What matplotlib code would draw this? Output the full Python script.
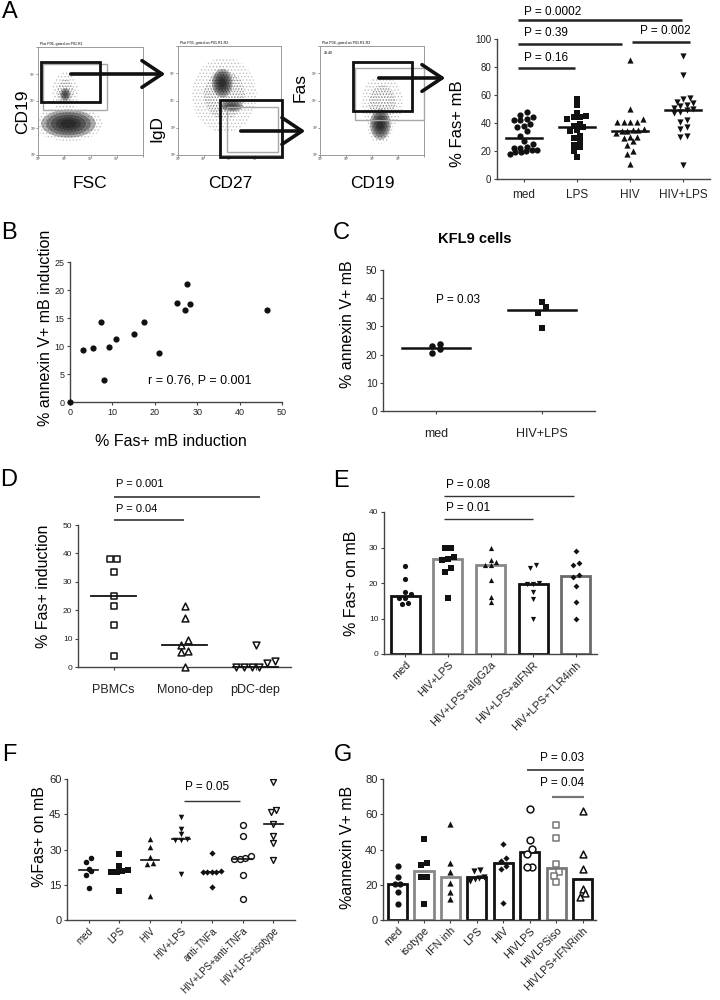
import numpy as np
import matplotlib
matplotlib.use('Agg')
import matplotlib.pyplot as plt
from matplotlib.patches import Rectangle, Ellipse, FancyArrowPatch

plt.rcParams['font.family'] = ['Liberation Sans', 'DejaVu Sans']
plt.rcParams['hatch.linewidth'] = 0.6

# ---------------- data ----------------
a_groups = ['med', 'LPS', 'HIV', 'HIV+LPS']
a_med = [48, 46, 44, 43, 42, 42, 39, 38, 37, 34, 31, 27, 25, 23, 22, 22, 21, 21, 20, 19, 19, 18]
a_lps = [57, 53, 47, 45, 44, 44, 43, 39, 38, 37, 35, 34, 31, 29, 27, 24, 23, 20, 16]
a_hiv = [85, 50, 43, 41, 41, 41, 41, 36, 35, 35, 34, 34, 33, 30, 30, 29, 27, 24, 20, 18, 11]
a_hivlps = [88, 74, 58, 57, 55, 54, 53, 52, 51, 50, 49, 48, 47, 42, 41, 37, 36, 31, 30, 10]

b_fas = [0, 3.0, 5.4, 7.2, 8.1, 9.1, 10.9, 15.0, 17.5, 20.9, 25.2, 27.2, 27.7, 28.2, 46.5]
b_annexin = [0, 9.3, 9.6, 14.2, 4.0, 9.9, 11.2, 12.1, 14.2, 8.8, 17.6, 16.5, 21.1, 17.5, 16.4]

c_groups = ['med', 'HIV+LPS']
c_med = [23.0, 23.8, 22.0, 20.4]
c_hivlps = [38.5, 36.8, 34.9, 29.3]

d_groups = ['PBMCs', 'Mono-dep', 'pDC-dep']
d_pbmc = [38, 38, 33.3, 24.9, 21.4, 14.7, 4.0]
d_mono = [21.4, 17.1, 9.4, 7.9, 5.6, 5.3, 0]
d_pdc = [7.9, 1.5, 0, 0, 0, 0, 2.0]

e_groups = ['med', 'HIV+LPS', 'HIV+LPS+aIgG2a', 'HIV+LPS+aIFNR', 'HIV+LPS+TLR4inh']
e_med = [24.8, 21.0, 17.5, 17.0, 15.9, 15.9, 14.2, 14.4]
e_hivlps = [29.9, 29.9, 27.2, 26.5, 26.9, 24.3, 23.1, 15.9]
e_igg = [29.8, 26.0, 25.2, 25.0, 26.5, 20.8, 16.0, 14.6]
e_ifnr = [25.0, 24.1, 19.9, 19.7, 19.7, 17.5, 15.6, 10.0]
e_tlr4 = [28.9, 25.2, 25.7, 22.2, 21.7, 19.2, 14.7, 10.0]

f_groups = ['med', 'LPS', 'HIV', 'HIV+LPS', 'anti-TNFa', 'HIV+LPS+anti-TNFa', 'HIV+LPS+isotype']
f_med = [26.2, 24.5, 21.6, 21.0, 19.2, 13.8]
f_lps = [28.2, 22.8, 21.3, 21.0, 20.6, 20.3, 12.4]
f_hiv = [34.4, 31.0, 27.0, 24.2, 23.8, 10.2]
f_hivlps = [43.8, 38.7, 36.5, 34.6, 34.2, 34.0, 19.5]
f_tnf = [28.4, 21.0, 20.6, 20.5, 20.4, 20.6, 14.2]
f_hivlps_tnf = [40.4, 35.6, 27.3, 26.3, 26.0, 25.8, 19.2, 9.1]
f_iso = [58.6, 46.9, 45.8, 41.0, 35.6, 32.7, 25.6]

g_groups = ['med', 'isotype', 'IFN inh', 'LPS', 'HIV', 'HIVLPS', 'HIVLPSiso', 'HIVLPS+IFNRinh']
g_med = [30.9, 24.6, 20.3, 20.3, 15.7, 8.9]
g_iso = [45.9, 32.6, 31.3, 24.3, 24.3, 9.1]
g_ifn = [54.6, 32.6, 27.5, 21.0, 16.1, 11.8]
g_lps = [28.4, 27.8, 24.6, 24.0, 23.0, 22.4]
g_hiv = [43.0, 35.1, 33.6, 30.7, 28.8, 9.5]
g_hivlps = [62.9, 45.5, 40.2, 37.3, 29.8, 29.8]
g_hivlpsiso = [54.0, 46.4, 31.8, 27.1, 25.0, 21.8]
g_ifnr = [61.6, 37.5, 28.8, 17.4, 15.2, 13.3]

# ---------------- helpers ----------------
W, H = 720, 1000
fig = plt.figure(figsize=(7.2, 10), dpi=100)
fig.patch.set_facecolor('white')


def rect(l, t, r, b):
    return [l / W, 1 - b / H, (r - l) / W, (b - t) / H]


def fp(x, y):
    return (x / W, 1 - y / H)


def ftext(x, y, s, **kw):
    fig.text(x / W, 1 - y / H, s, **kw)


AX = '#444444'


def style(ax, fs=7):
    for s in ['top', 'right']:
        ax.spines[s].set_visible(False)
    for s in ['left', 'bottom']:
        ax.spines[s].set_color(AX)
        ax.spines[s].set_linewidth(1.0)
    ax.tick_params(axis='both', length=2.5, width=0.8, color=AX,
                   labelsize=fs, labelcolor='#222222', pad=1.5)
    ax.set_facecolor('none')


def swarm(vals, thr, dx, maxw=0.8):
    v = np.asarray(vals, float)
    order = np.argsort(v)
    off = np.zeros(len(v))
    rows, cur = [], [order[0]]
    for idx in order[1:]:
        if v[idx] - v[cur[0]] < thr:
            cur.append(idx)
        else:
            rows.append(cur)
            cur = [idx]
    rows.append(cur)
    for r in rows:
        n = len(r)
        d = dx if n * dx <= maxw else maxw / n
        for k, idx in enumerate(r):
            off[idx] = (k - (n - 1) / 2) * d
    return off


def pline(ax, x0, x1, y, color='#222222', lw=1.2):
    ax.plot([x0, x1], [y, y], color=color, lw=lw, clip_on=False, solid_capstyle='butt')


# ================= Panel A: flow plots =================
flow_axes = [(38, 47, 143, 155, 'Plot P06, gated on P01.R1', ''),
             (178, 46, 281, 155, 'Plot P05, gated on P01.R1.R2', ''),
             (320, 46, 424, 155, 'Plot P04, gated on P01.R1.R2', '28.40')]
flow_ax = []
for (l, t, r, b, ttl, extra) in flow_axes:
    fa = fig.add_axes(rect(l, t, r, b))
    fa.set_xlim(0, 1)
    fa.set_ylim(0, 1)
    for s in fa.spines.values():
        s.set_color('#9a9a9a')
        s.set_linewidth(0.7)
    fa.set_xticks([0, 0.25, 0.5, 0.75, 1.0])
    fa.set_yticks([0, 0.25, 0.5, 0.75, 1.0])
    fa.set_xticklabels(['10²', '10³', '10⁴', '10⁵', ''], fontsize=2.5)
    fa.set_yticklabels(['10²', '10³', '10⁴', '10⁵', ''], fontsize=2.5)
    fa.tick_params(length=1.2, width=0.4, pad=0.5, colors='#444')
    fa.text(0.02, 1.01, ttl, fontsize=2.6, transform=fa.transAxes, va='bottom')
    if extra:
        fa.text(0.04, 0.95, extra, fontsize=2.6, transform=fa.transAxes, va='top')
    flow_ax.append(fa)


def cloud(fa, cx, cy, w, h, dark, sparse=False):
    # soft population cloud: dotted halo plus graded core
    e = Ellipse((cx, cy), w * 1.25, h * 1.25, facecolor='none', edgecolor='#bdbdbd',
                lw=0, hatch='.....', transform=fa.transAxes, zorder=1)
    fa.add_patch(e)
    if sparse:
        fa.add_patch(Ellipse((cx, cy), w * 0.8, h * 0.8, facecolor='none',
                             edgecolor='#8a8a8a', lw=0, hatch='......',
                             transform=fa.transAxes, zorder=1))
        return
    for sc in [1.0, 0.82, 0.64, 0.46, 0.3]:
        fa.add_patch(Ellipse((cx, cy), w * sc, h * sc, facecolor=dark, alpha=0.32,
                             edgecolor='none', transform=fa.transAxes, zorder=2))


cloud(flow_ax[0], 0.29, 0.29, 0.52, 0.26, '#0a0a0a')
cloud(flow_ax[0], 0.26, 0.58, 0.20, 0.30, '#333333', sparse=True)
cloud(flow_ax[0], 0.26, 0.56, 0.10, 0.12, '#333333')
cloud(flow_ax[1], 0.45, 0.55, 0.50, 0.55, '#333333', sparse=True)
cloud(flow_ax[1], 0.43, 0.66, 0.20, 0.26, '#111111')
cloud(flow_ax[1], 0.52, 0.45, 0.22, 0.10, '#333333')
cloud(flow_ax[2], 0.60, 0.48, 0.32, 0.40, '#333333', sparse=True)
cloud(flow_ax[2], 0.58, 0.28, 0.20, 0.28, '#111111')

# gates (figure pixel coordinates)
gates = [((43, 64, 107, 110), (41, 62, 100, 102)),
         ((227, 107, 278, 152), (220, 100, 282, 157)),
         ((355, 68, 424, 120), (353, 62, 412, 111))]
for light, thick in gates:
    for (bx, c, lw) in [(light, '#a8a8a8', 1.0), (thick, '#111111', 2.0)]:
        x0, y0, x1, y1 = bx
        fig.patches.append(Rectangle(fp(x0, y1), (x1 - x0) / W, (y1 - y0) / H,
                                     transform=fig.transFigure, fill=False,
                                     edgecolor=c, lw=lw, zorder=5))

arrows = [((68, 74), (168, 74)), ((238, 131), (308, 131)), ((376, 78), (448, 78))]
for (p0, p1) in arrows:
    fig.patches.append(FancyArrowPatch(fp(*p0), fp(*p1), transform=fig.transFigure,
                                       arrowstyle='->,head_length=0.6,head_width=0.4',
                                       mutation_scale=24, lw=2.6, color='#111111',
                                       zorder=6))

ftext(23, 112, 'CD19', rotation=90, fontsize=12.5, ha='center', va='center')
ftext(90, 184, 'FSC', fontsize=12.5, ha='center', va='center')
ftext(157, 129, 'IgD', rotation=90, fontsize=12.5, ha='center', va='center')
ftext(230, 184, 'CD27', fontsize=12.5, ha='center', va='center')
ftext(300, 88, 'Fas', rotation=90, fontsize=12.5, ha='center', va='center')
ftext(372, 184, 'CD19', fontsize=12.5, ha='center', va='center')

# ================= Panel A: scatter =================
axA = fig.add_axes(rect(497, 39, 710, 179))
style(axA, 7)
a_data = [a_med, a_lps, a_hiv, a_hivlps]
a_mk = ['o', 's', '^', 'v']
for i, (vals, mk) in enumerate(zip(a_data, a_mk)):
    off = swarm(vals, 3.6, 0.12, 0.62)
    axA.scatter(i + off, vals, marker=mk, s=20, color='#111111', linewidths=0, zorder=3, clip_on=False)
    m = np.median(vals)
    axA.plot([i - 0.34, i + 0.34], [m, m], color='#111111', lw=1.8, zorder=4)
axA.set_xlim(-0.5, 3.5)
axA.set_ylim(0, 100)
axA.set_yticks([0, 20, 40, 60, 80, 100])
axA.set_xticks(range(4))
axA.set_xticklabels(a_groups, fontsize=8.5)
axA.tick_params(axis='x', pad=5)
ftext(458, 124, '% Fas+ mB', rotation=90, fontsize=12, ha='center', va='center')
pline(axA, -0.11, 2.98, 113.6, lw=1.8)
axA.text(0.0, 119.5, 'P = 0.0002', fontsize=8.5, va='center', ha='left', clip_on=False)
pline(axA, -0.11, 1.85, 96.4, lw=1.8)
axA.text(0.0, 104.5, 'P = 0.39', fontsize=8.5, va='center', ha='left', clip_on=False)
pline(axA, 2.04, 3.13, 97.9, lw=1.8)
axA.text(2.19, 105.5, 'P = 0.002', fontsize=8.5, va='center', ha='left', clip_on=False)
pline(axA, -0.11, 0.97, 79.3, lw=1.8)
axA.text(0.0, 86.5, 'P = 0.16', fontsize=8.5, va='center', ha='left', clip_on=False)

# ================= Panel B =================
axB = fig.add_axes(rect(70, 262, 282, 402))
style(axB, 6.5)
axB.scatter(b_fas, b_annexin, s=20, color='#111111', linewidths=0, zorder=3, clip_on=False)
axB.set_xlim(0, 50)
axB.set_ylim(0, 25)
axB.set_xticks([0, 10, 20, 30, 40, 50])
axB.set_yticks([0, 5, 10, 15, 20, 25])
axB.text(18.3, 3.9, 'r = 0.76, P = 0.001', fontsize=9, va='center', ha='left')
ftext(46, 328, '% annexin V+ mB induction', rotation=90, fontsize=11.5, ha='center', va='center')
ftext(171, 441, '% Fas+ mB induction', fontsize=11.5, ha='center', va='center')

# ================= Panel C =================
axC = fig.add_axes(rect(383, 270, 595, 411))
style(axC, 7.5)
for i, (vals, mk) in enumerate(zip([c_med, c_hivlps], ['o', 's'])):
    off = swarm(vals, 2.0, 0.075, 0.3)
    axC.scatter(i + off, vals, marker=mk, s=22, color='#111111', linewidths=0, zorder=3)
    m = np.median(vals)
    axC.plot([i - 0.32, i + 0.32], [m, m], color='#111111', lw=1.8, zorder=4)
axC.set_xlim(-0.5, 1.5)
axC.set_ylim(0, 50)
axC.set_yticks([0, 10, 20, 30, 40, 50])
axC.set_xticks([0, 1])
axC.set_xticklabels(c_groups, fontsize=9)
axC.tick_params(axis='x', pad=10)
axC.text(0.0, 39.5, 'P = 0.03', fontsize=8.5, va='center', ha='left')
ftext(475, 239, 'KFL9 cells', fontsize=10.5, fontweight='bold', ha='center', va='center')
ftext(347, 324, '% annexin V+ mB', rotation=90, fontsize=11.5, ha='center', va='center')

# ================= Panel D =================
axD = fig.add_axes(rect(78, 525, 291, 667))
style(axD, 6)
for i, (vals, mk) in enumerate(zip([d_pbmc, d_mono, d_pdc], ['s', '^', 'v'])):
    off = swarm(vals, 2.2, 0.11, 0.7)
    axD.scatter(i + off, vals, marker=mk, s=24, facecolor='white', edgecolor='#111111',
                linewidths=1.1, zorder=3, clip_on=False)
    m = np.median(vals)
    axD.plot([i - 0.32, i + 0.32], [m, m], color='#111111', lw=1.3, zorder=4, clip_on=False)
axD.set_xlim(-0.5, 2.5)
axD.set_ylim(0, 50)
axD.set_yticks([0, 10, 20, 30, 40, 50])
axD.set_xticks([0, 1, 2])
axD.set_xticklabels(d_groups, fontsize=9)
axD.tick_params(axis='x', pad=10)
pline(axD, 0.0, 2.06, 59.9, lw=1.1)
axD.text(0.03, 64.6, 'P = 0.001', fontsize=8, va='center', ha='left', clip_on=False)
pline(axD, 0.0, 0.99, 51.8, lw=1.1)
axD.text(0.03, 55.8, 'P = 0.04', fontsize=8, va='center', ha='left', clip_on=False)
ftext(43, 586, '% Fas+ induction', rotation=90, fontsize=11.5, ha='center', va='center')

# ================= Panel E =================
axE = fig.add_axes(rect(384, 512, 597, 654))
style(axE, 6)
e_data = [e_med, e_hivlps, e_igg, e_ifnr, e_tlr4]
e_mk = ['o', 's', '^', 'v', 'D']
e_ec = ['#111111', '#888888', '#888888', '#111111', '#6a6a6a']
for i, (vals, mk, ec) in enumerate(zip(e_data, e_mk, e_ec)):
    m = np.median(vals)
    axE.bar(i, m, width=0.68, facecolor='white', edgecolor=ec, lw=2.0, zorder=2)
    off = swarm(vals, 1.3, 0.14, 0.62)
    axE.scatter(i + off, vals, marker=mk, s=(9 if mk == 'D' else 14), color='#111111',
                linewidths=0, zorder=3)
axE.set_xlim(-0.5, 4.5)
axE.set_ylim(0, 40)
axE.set_yticks([0, 10, 20, 30, 40])
axE.set_xticks(range(5))
axE.set_xticklabels(e_groups, fontsize=7.8, rotation=45, ha='right', rotation_mode='anchor')
pline(axE, 0.9, 3.95, 44.5, color='#333333', lw=1.0)
axE.text(0.95, 47.6, 'P = 0.08', fontsize=8.5, va='center', ha='left', clip_on=False)
pline(axE, 0.9, 3.0, 38.0, color='#333333', lw=1.0)
axE.text(0.95, 41.2, 'P = 0.01', fontsize=8.5, va='center', ha='left', clip_on=False)
ftext(352, 583, '% Fas+ on mB', rotation=90, fontsize=11.5, ha='center', va='center')

# ================= Panel F =================
axF = fig.add_axes(rect(67, 779, 295, 920))
style(axF, 8)
f_data = [f_med, f_lps, f_hiv, f_hivlps, f_tnf, f_hivlps_tnf, f_iso]
f_mk = ['o', 's', '^', 'v', 'D', 'o', 'v']
f_open = [False, False, False, False, False, True, True]
for i, (vals, mk, op) in enumerate(zip(f_data, f_mk, f_open)):
    off = swarm(vals, 2.0, 0.18, 0.75)
    if op:
        axF.scatter(i + off, vals, marker=mk, s=18, facecolor='white', edgecolor='#111111',
                    linewidths=1.0, zorder=3)
    else:
        axF.scatter(i + off, vals, marker=mk, s=(10 if mk == 'D' else 16), color='#111111',
                    linewidths=0, zorder=3)
    m = np.median(vals)
    axF.plot([i - 0.3, i + 0.3], [m, m], color='#111111', lw=1.2, zorder=4)
axF.set_xlim(-0.7, 6.7)
axF.set_ylim(0, 60)
axF.set_yticks([0, 15, 30, 45, 60])
axF.set_xticks(range(7))
axF.set_xticklabels(f_groups, fontsize=7, rotation=45, ha='right', rotation_mode='anchor')
pline(axF, 3.09, 4.9, 50.6, color='#333333', lw=1.0)
axF.text(3.85, 56.6, 'P = 0.05', fontsize=8.5, va='center', ha='center')
ftext(40, 837, '%Fas+ on mB', rotation=90, fontsize=11.5, ha='center', va='center')

# ================= Panel G =================
axG = fig.add_axes(rect(383, 779, 596, 920))
style(axG, 8)
g_data = [g_med, g_iso, g_ifn, g_lps, g_hiv, g_hivlps, g_hivlpsiso, g_ifnr]
g_mk = ['o', 's', '^', 'v', 'D', 'o', 's', '^']
g_open = [False, False, False, False, False, True, True, True]
g_ec = ['#111111', '#888888', '#888888', '#111111', '#111111', '#111111', '#777777', '#111111']
g_pc = ['#111111'] * 6 + ['#777777', '#111111']
for i, vals in enumerate(g_data):
    m = np.median(vals)
    axG.bar(i, m, width=0.72, facecolor='white', edgecolor=g_ec[i], lw=2.0, zorder=2)
    off = swarm(vals, 3.0, 0.2, 0.7)
    if g_open[i]:
        axG.scatter(i + off, vals, marker=g_mk[i], s=24, facecolor='white', edgecolor=g_pc[i],
                    linewidths=1.1, zorder=3)
    else:
        axG.scatter(i + off, vals, marker=g_mk[i], s=(10 if g_mk[i] == 'D' else 20),
                    color='#111111', linewidths=0, zorder=3)
axG.set_xlim(-0.55, 7.5)
axG.set_ylim(0, 80)
axG.set_yticks([0, 20, 40, 60, 80])
axG.set_xticks(range(8))
axG.set_xticklabels(g_groups, fontsize=7.8, rotation=45, ha='right', rotation_mode='anchor')
pline(axG, 4.9, 7.06, 85.1, color='#222222', lw=1.1)
axG.text(7.06, 91.9, 'P = 0.03', fontsize=8.5, va='center', ha='right', clip_on=False)
pline(axG, 5.85, 7.06, 69.8, color='#777777', lw=1.6)
axG.text(7.06, 77.7, 'P = 0.04', fontsize=8.5, va='center', ha='right', clip_on=False)
ftext(348, 847, '%annexin V+ mB', rotation=90, fontsize=11.5, ha='center', va='center')

# ================= Panel letters =================
for (lx, ly, L) in [(10, 12, 'A'), (9, 233, 'B'), (341, 233, 'C'), (9, 480, 'D'),
                    (341, 481, 'E'), (9, 755, 'F'), (343, 755, 'G')]:
    ftext(lx, ly, L, fontsize=17, ha='center', va='center')

fig.savefig('out.png', dpi=100, facecolor='white')
